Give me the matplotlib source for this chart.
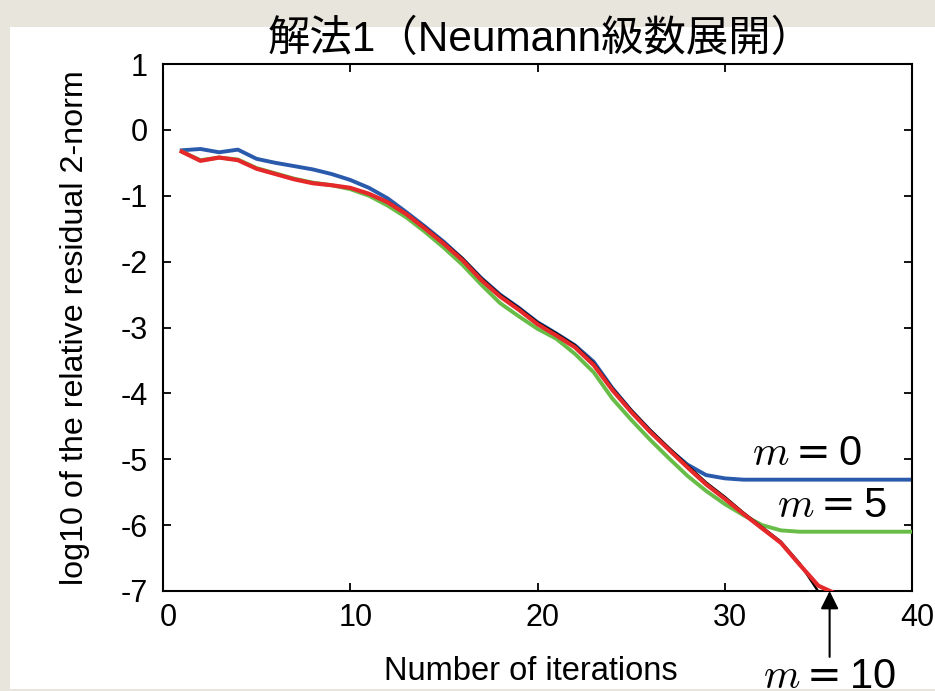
import matplotlib
matplotlib.use("Agg")
import matplotlib.pyplot as plt
import matplotlib.transforms as mtransforms
from matplotlib.patches import Rectangle

# ---------------- data ----------------
iters_m0 = list(range(1, 41))
resid_m0 = [-0.31, -0.29, -0.34, -0.30, -0.44, -0.50, -0.55, -0.60, -0.67, -0.76,
            -0.88, -1.04, -1.25, -1.47, -1.70, -1.96, -2.25, -2.50, -2.70, -2.92,
            -3.09, -3.27, -3.52, -3.92, -4.26, -4.56, -4.84, -5.08, -5.24, -5.29,
            -5.31, -5.31, -5.31, -5.31, -5.31, -5.31, -5.31, -5.31, -5.31, -5.31]

iters_m5 = list(range(1, 41))
resid_m5 = [-0.33, -0.46, -0.42, -0.45, -0.58, -0.66, -0.74, -0.80, -0.84, -0.90,
            -1.00, -1.15, -1.33, -1.55, -1.79, -2.05, -2.35, -2.63, -2.83, -3.02,
            -3.17, -3.40, -3.68, -4.08, -4.40, -4.70, -4.98, -5.25, -5.48, -5.68,
            -5.85, -6.00, -6.08, -6.10, -6.10, -6.10, -6.10, -6.10, -6.10, -6.10]

iters_m10 = list(range(1, 37))
resid_m10 = [-0.33, -0.47, -0.42, -0.46, -0.59, -0.67, -0.75, -0.81, -0.84, -0.88,
             -0.97, -1.10, -1.28, -1.50, -1.73, -1.98, -2.28, -2.53, -2.73, -2.95,
             -3.12, -3.30, -3.57, -3.95, -4.28, -4.58, -4.85, -5.12, -5.38, -5.60,
             -5.83, -6.05, -6.27, -6.60, -6.92, -7.05]

iters_ref = list(range(1, 36))
resid_ref = [-0.33, -0.47, -0.42, -0.46, -0.59, -0.67, -0.75, -0.81, -0.84, -0.88,
             -0.97, -1.09, -1.27, -1.48, -1.71, -1.95, -2.25, -2.50, -2.70, -2.92,
             -3.09, -3.27, -3.54, -3.92, -4.25, -4.55, -4.82, -5.09, -5.35, -5.57,
             -5.81, -6.03, -6.25, -6.58, -7.01]

xticks = [0, 10, 20, 30, 40]
yticks = [1, 0, -1, -2, -3, -4, -5, -6, -7]
title_text = "解法1（Neumann級数展開）"
xlabel_text = "Number of iterations"
ylabel_text = "log10 of the relative residual 2-norm"
labels = [r"$m=\mathsf{0}$", r"$m=\mathsf{5}$", r"$m=\mathsf{10}$"]

# ---------------- style ----------------
plt.rcParams['font.family'] = ['Liberation Sans', 'Noto Sans CJK JP', 'DejaVu Sans']
plt.rcParams['mathtext.fontset'] = 'custom'
plt.rcParams['mathtext.it'] = 'cmmi10'
plt.rcParams['mathtext.rm'] = 'DejaVu Sans'
plt.rcParams['mathtext.sf'] = 'Liberation Sans'

W, H = 935, 691
fig = plt.figure(figsize=(W / 100, H / 100), dpi=100)
fig.patch.set_facecolor('#e8e5dd')

panel = Rectangle((10 / W, 2 / H), (935 - 10) / W, (664 - 2) / H,
                  transform=fig.transFigure, facecolor='white', edgecolor='none',
                  zorder=0)
fig.patches.append(panel)

ax = fig.add_axes([163 / W, 1 - 591 / H, (912 - 163) / W, (591 - 64) / H])
ax.set_facecolor('white')
ax.set_zorder(1)

c_blue = '#2a5aab'
c_green = '#68bd48'
c_red = '#e5282a'

ax.plot(iters_m0, resid_m0, color=c_blue, lw=2.8, solid_joinstyle='round', zorder=2)
ax.plot(iters_m5, resid_m5, color=c_green, lw=2.8, solid_joinstyle='round', zorder=3)
ax.plot(iters_ref, resid_ref, color='black', lw=1.7, solid_joinstyle='round', zorder=4)
ax.plot(iters_m10, resid_m10, color=c_red, lw=3.0, solid_joinstyle='round', zorder=5)

ax.set_xlim(0, 40)
ax.set_ylim(-7, 1)
ax.set_xticks(xticks)
ax.set_yticks(yticks)
ax.set_xticklabels([str(v) for v in xticks])
ax.set_yticklabels([str(v) for v in yticks])

for s in ax.spines.values():
    s.set_linewidth(1.5)
    s.set_color('black')

ax.tick_params(direction='in', length=6, width=1.3, top=True, right=True,
               labelsize=22, colors='black')
ax.tick_params(axis='x', pad=9)
ax.tick_params(axis='y', pad=11)

offset = mtransforms.ScaledTranslation(5 / 100, 0, fig.dpi_scale_trans)
for lab in ax.get_xticklabels():
    lab.set_transform(lab.get_transform() + offset)

ax.set_xlabel(xlabel_text, fontsize=23.5)
ax.xaxis.set_label_coords((531 - 163) / 749, -(671 - 591) / 527)
ax.xaxis.label.set_verticalalignment('center')

ax.set_ylabel(ylabel_text, fontsize=23.2)
ax.yaxis.set_label_coords((75 - 163) / 749, 0.5)
ax.yaxis.label.set_verticalalignment('center')

fig.text(541 / W, 1 - 51 / H, title_text, fontsize=30.5, ha='center', va='baseline')

# annotations
ax.text(31.45, -5.085, labels[0], fontsize=30, ha='left', va='baseline', zorder=6)
ax.text(32.8, -5.87, labels[1], fontsize=30, ha='left', va='baseline', zorder=6)
ax.text(32.04, -8.47, labels[2], fontsize=30, ha='left', va='baseline', clip_on=False,
        zorder=6)
ax.annotate('', xy=(35.6, -7.0), xytext=(35.6, -8.0), annotation_clip=False,
            arrowprops=dict(arrowstyle='-|>,head_length=0.6,head_width=0.3',
                            mutation_scale=18, lw=1.5, color='black',
                            shrinkA=0, shrinkB=0))

fig.savefig('out.png', dpi=100, facecolor=fig.get_facecolor())
